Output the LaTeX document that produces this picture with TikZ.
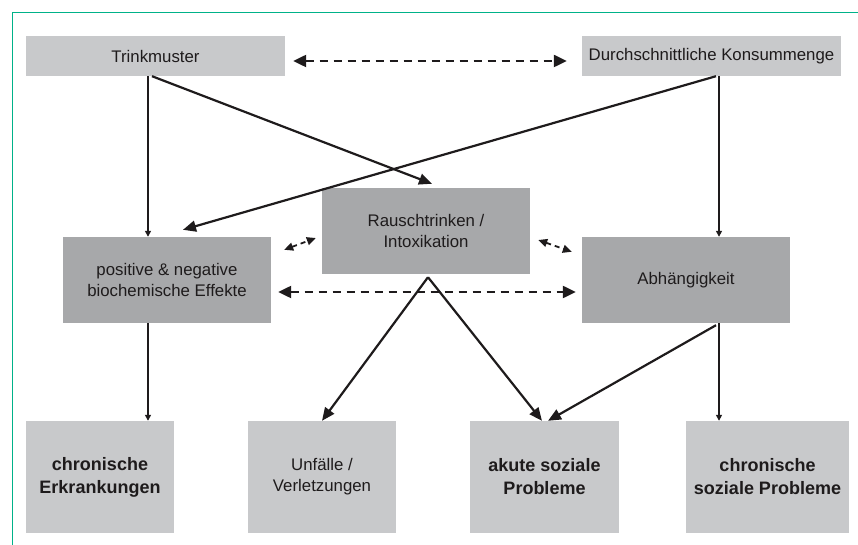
\documentclass[tikz,border=0pt]{standalone}
\usepackage{fontspec}
\setmainfont{Liberation Sans}
\usetikzlibrary{arrows.meta}
\definecolor{hellgrau}{RGB}{200,201,203}
\definecolor{dunkelgrau}{RGB}{167,168,170}
\definecolor{schrift}{RGB}{30,27,28}
\definecolor{rahmen}{RGB}{0,178,137}

\begin{document}
\begin{tikzpicture}[x=1pt, y=-1pt,
    box/.style={inner sep=0pt, align=center, text=schrift, font=\fontsize{16.8}{21}\selectfont},
    hell/.style={box, fill=hellgrau},
    dunkel/.style={box, fill=dunkelgrau, minimum width=208pt, minimum height=86pt},
    fett/.style={hell, minimum height=112pt, font=\fontsize{18}{23}\selectfont\bfseries},
    pfeil/.style={line width=2.2pt, draw=schrift, -{Triangle[length=13pt,width=11pt]}},
    duenn/.style={line width=1.4pt, draw=schrift, -{Triangle[length=6pt,width=6pt]}},
    wechsel/.style={line width=2.3pt, draw=schrift, dash pattern=on 8pt off 6pt, {Triangle[length=13pt,width=12pt]}-{Triangle[length=13pt,width=12pt]}},
    wechselklein/.style={line width=1.8pt, draw=schrift, dash pattern=on 5pt off 4pt, {Triangle[length=9pt,width=8pt]}-{Triangle[length=9pt,width=8pt]}}]
    \useasboundingbox (0,0) rectangle (858,545);
    \draw [rahmen, line width=1.6pt] (12.5,545) -- (12.5,12.5) -- (858,12.5);
    \node [hell, minimum width=259pt, minimum height=40pt] (trink) at (155.5,56) {Trinkmuster};
    \node [hell, minimum width=259pt, minimum height=40pt] (konsum) at (711.5,56) {Durchschnittliche Konsummenge};
    \node [dunkel] (rausch) at (426,231) {Rauschtrinken /\\Intoxikation};
    \node [dunkel] (effekte) at (167,280) {positive \& negative\\biochemische Effekte};
    \node [dunkel] (abh) at (686,280) {Abhängigkeit};
    \node [fett, minimum width=148pt] (chron) at (100,477) {chronische\\Erkrankungen};
    \node [hell, minimum width=148pt, minimum height=112pt] (unfall) at (322,477) {Unfälle /\\Verletzungen};
    \node [fett, minimum width=149pt] (akut) at (544.5,477) {akute soziale\\Probleme};
    \node [fett, minimum width=163pt] (chsoz) at (767.5,477) {chronische\\soziale Probleme};
    \draw [wechsel] ([shift={(8,5)}]trink.east) -- ([shift={(-15,5)}]konsum.west);
    \draw [duenn] ([xshift=-7.5]trink.south) -- ([xshift=-7.5]trink.south |- effekte.north);
    \draw [pfeil] ([xshift=-3.5]trink.south) -- ([shift={(6,-4)}]rausch.north);
    \draw [pfeil] ([xshift=4.5]konsum.south) -- ([shift={(16,-7)}]effekte.north);
    \draw [duenn] ([xshift=7.5]konsum.south) -- ([xshift=7.5]konsum.south |- abh.north);
    \draw [wechselklein] ([shift={(13,13)}]effekte.north east) -- ([shift={(-6,7)}]rausch.west);
    \draw [wechselklein] ([shift={(8,9)}]rausch.east) -- ([shift={(-10,15)}]abh.north west);
    \draw [wechsel] ([shift={(7,12)}]effekte.east) -- ([shift={(-6,12)}]abh.west);
    \draw [duenn] ([xshift=-19]effekte.south) -- ([xshift=-19]effekte.south |- chron.north);
    \draw [pfeil] ([shift={(2,3)}]rausch.south) -- (unfall.north);
    \draw [pfeil] ([shift={(2,3)}]rausch.south) -- ([xshift=-2.5]akut.north);
    \draw [pfeil] ([shift={(30,2)}]abh.south) -- ([xshift=3.5]akut.north);
    \draw [duenn] ([xshift=33]abh.south) -- ([xshift=33]abh.south |- chsoz.north);
\end{tikzpicture}
\end{document}
